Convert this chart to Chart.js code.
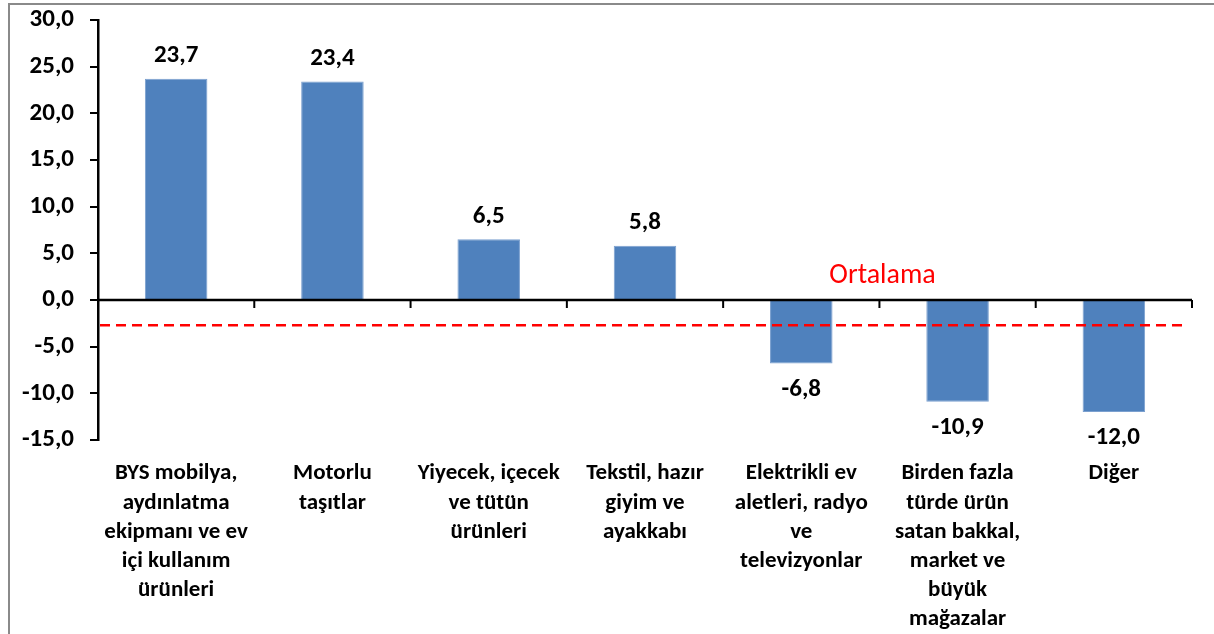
<!DOCTYPE html>
<html><head><meta charset="utf-8">
<script src="https://cdn.jsdelivr.net/npm/chart.js@4/dist/chart.umd.min.js"></script>
<style>
html,body{margin:0;padding:0;background:#fff;}
#wrap{position:relative;width:1214px;height:634px;overflow:hidden;}
#frame{position:absolute;left:8px;top:3px;right:-2px;bottom:-2px;border-left:2px solid #8a8a8a;border-top:2px solid #8a8a8a;pointer-events:none;}
canvas{position:absolute;left:0;top:0;}
</style></head><body>
<div id="wrap"><canvas id="c" width="1214" height="634" style="width:1214px;height:634px"></canvas><div id="frame"></div></div>
<script>
const categories = [
  ['BYS mobilya,', 'aydınlatma', 'ekipmanı ve ev', 'içi kullanım', 'ürünleri'],
  ['Motorlu', 'taşıtlar'],
  ['Yiyecek, içecek', 've tütün', 'ürünleri'],
  ['Tekstil, hazır', 'giyim ve', 'ayakkabı'],
  ['Elektrikli ev', 'aletleri, radyo', 've', 'televizyonlar'],
  ['Birden fazla', 'türde ürün', 'satan bakkal,', 'market ve', 'büyük', 'mağazalar'],
  ['Diğer']
];
const values = [23.7, 23.4, 6.5, 5.8, -6.8, -10.9, -12.0];
const averageValue = -2.7;
const averageLabel = 'Ortalama';
const yMin = -15, yMax = 30, yStep = 5;

const FONT = 'Carlito, Lato, "Liberation Sans", sans-serif';
const fmt = v => Number(v).toFixed(1).replace('.', ',');

const refPlugin = {
  id: 'refs',
  afterDatasetsDraw(chart) {
    const {ctx, chartArea, scales: {x, y}} = chart;
    const y0 = y.getPixelForValue(0);
    ctx.save();
    ctx.strokeStyle = '#000';
    ctx.lineWidth = 2.5;
    ctx.beginPath();
    ctx.moveTo(chartArea.left, y0);
    ctx.lineTo(chartArea.right, y0);
    ctx.stroke();
    ctx.lineWidth = 2;
    for (let i = 0; i <= categories.length; i++) {
      const px = x.getPixelForValue(i - 0.5);
      ctx.beginPath();
      ctx.moveTo(px, y0);
      ctx.lineTo(px, y0 + 8);
      ctx.stroke();
    }
    const ya = y.getPixelForValue(averageValue);
    ctx.strokeStyle = '#FF0000';
    ctx.lineWidth = 2.5;
    ctx.setLineDash([10, 6]);
    ctx.beginPath();
    ctx.moveTo(chartArea.left + 2, ya);
    ctx.lineTo(chartArea.right - 4, ya);
    ctx.stroke();
    ctx.setLineDash([]);
    ctx.fillStyle = '#FF0000';
    ctx.font = '28px ' + FONT;
    ctx.textAlign = 'center';
    ctx.textBaseline = 'middle';
    ctx.fillText(averageLabel, x.getPixelForValue(4.52), y.getPixelForValue(2.6));
    ctx.fillStyle = '#000';
    ctx.font = 'bold 25px ' + FONT;
    const meta = chart.getDatasetMeta(0);
    meta.data.forEach((bar, i) => {
      const v = values[i];
      const ly = v >= 0 ? bar.y - 23 : bar.y + 26;
      ctx.fillText(fmt(v), bar.x, ly);
    });
    ctx.restore();
  }
};

new Chart(document.getElementById('c'), {
  type: 'bar',
  data: {
    labels: categories,
    datasets: [{
      data: values,
      backgroundColor: '#4F81BD',
      borderColor: '#7BA0CF',
      borderWidth: 1,
      barPercentage: 0.4,
      categoryPercentage: 1.0
    }]
  },
  options: {
    responsive: false,
    animation: false,
    devicePixelRatio: 1,
    layout: {padding: {top: 20, right: 22, left: 0, bottom: 0}},
    plugins: {legend: {display: false}, tooltip: {enabled: false}},
    scales: {
      x: {
        grid: {display: false, drawTicks: false},
        border: {display: false},
        ticks: {color: '#000', font: {family: FONT, size: 23, weight: 'bold', lineHeight: 1.27}, padding: 19, maxRotation: 0, minRotation: 0, autoSkip: false},
        afterFit(s) { s.height = 194; s.paddingLeft = 0; s.paddingRight = 0; }
      },
      y: {
        min: yMin, max: yMax,
        ticks: {stepSize: yStep, color: '#000', font: {family: FONT, size: 25, weight: 'bold'}, padding: 16, callback: v => fmt(v)},
        grid: {drawOnChartArea: false, drawTicks: true, tickLength: 8, color: '#000', lineWidth: 2},
        border: {display: true, color: '#000', width: 2.5},
        afterFit(s) { s.width = 98; s.paddingTop = 0; s.paddingBottom = 0; }
      }
    }
  },
  plugins: [refPlugin]
});
</script>
</body></html>
